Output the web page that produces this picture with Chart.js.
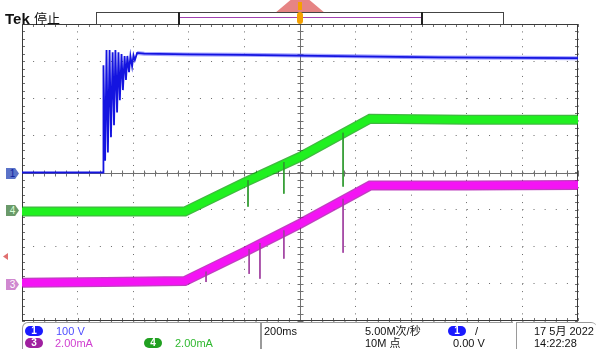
<!DOCTYPE html>
<html>
<head>
<meta charset="utf-8">
<script src="https://cdn.jsdelivr.net/npm/chart.js@4.4.1/dist/chart.umd.min.js"></script>
<style>
body { margin: 0; background: #fff; }
#tela { position: relative; width: 596px; height: 349px; overflow: hidden; font-family: "Liberation Sans", "Noto Sans CJK SC", sans-serif; }
#tela canvas { position: absolute; left: 0; top: 0; }
.txt { position: absolute; font-size: 11px; line-height: 12px; white-space: nowrap; color: #111; }
.pill { position: absolute; width: 18px; height: 10px; border-radius: 6px; color: #fff; font-size: 10px; line-height: 10px; text-align: center; font-weight: bold; }
.tag { position: absolute; width: 13px; height: 11px; font-size: 10px; line-height: 11px; text-align: center; clip-path: polygon(0 0, 70% 0, 100% 50%, 70% 100%, 0 100%); }
.caixa { position: absolute; border: 1px solid #9a9a9a; border-bottom: none; }
</style>
</head>
<body>
<div id="tela">
  <canvas id="scope" width="596" height="349"></canvas>

  <!-- cabeçalho -->
  <div class="txt" style="left:5px;top:10px;font:bold 15px 'Liberation Sans',sans-serif;">Tek</div>
  <div class="txt" style="left:34px;top:11px;font-size:13px;font-family:'Noto Sans CJK SC';line-height:14px;">停止</div>
  <div style="position:absolute;left:262px;top:-8px;width:76px;height:32px;background:rgba(220,80,80,0.7);clip-path:polygon(0 100%,50% 0,100% 100%);"></div>
  <div style="position:absolute;left:96px;top:12px;width:406px;height:11px;border:1px solid #444;background:#fff;"></div>
  <div style="position:absolute;left:178px;top:12px;width:2px;height:13px;background:#222;"></div>
  <div style="position:absolute;left:421px;top:12px;width:2px;height:13px;background:#222;"></div>
  <div style="position:absolute;left:180px;top:17px;width:241px;height:1px;background:#a040b0;"></div>
  <div style="position:absolute;left:297px;top:12px;width:6px;height:12px;border-radius:3px;background:#f5a000;"></div>
  <div style="position:absolute;left:298px;top:2px;width:4px;height:8px;background:#f5a000;"></div>

  <!-- marcadores dos canais -->
  <div class="tag" style="left:6px;top:168px;background:#5a72c8;color:#1020a0;">1</div>
  <div class="tag" style="left:6px;top:205px;background:#6a9a6a;color:#d8ffd8;">4</div>
  <div class="tag" style="left:6px;top:279px;background:#d088d0;color:#fff;">3</div>
  <div style="position:absolute;left:3px;top:253px;width:5px;height:7px;background:#e07070;clip-path:polygon(0 50%,100% 0,100% 100%);"></div>

  <!-- rodapé -->
  <div class="caixa" style="left:22px;top:322px;width:237px;height:30px;border-radius:6px 0 0 0;"></div>
  <div class="caixa" style="left:261px;top:322px;width:251px;height:30px;border-right:none;"></div>
  <div class="caixa" style="left:516px;top:322px;width:80px;height:30px;border-radius:0 6px 0 0;border-right:none;"></div>

  <div class="pill" style="left:25px;top:326px;background:#1a1aff;">1</div>
  <div class="txt" style="left:56px;top:325px;color:#4d4dff;">100 V</div>
  <div class="pill" style="left:25px;top:338px;background:#a020a0;">3</div>
  <div class="txt" style="left:55px;top:337px;color:#d040d0;">2.00mA</div>
  <div class="pill" style="left:144px;top:338px;background:#20a020;">4</div>
  <div class="txt" style="left:175px;top:337px;color:#30b830;">2.00mA</div>

  <div class="txt" style="left:264px;top:325px;">200ms</div>
  <div class="txt" style="left:365px;top:325px;">5.00M次/秒</div>
  <div class="txt" style="left:365px;top:337px;">10M 点</div>
  <div class="pill" style="left:448px;top:326px;background:#1a1aff;">1</div>
  <div class="txt" style="left:475px;top:325px;">/</div>
  <div class="txt" style="left:453px;top:337px;">0.00 V</div>

  <div class="txt" style="left:534px;top:325px;">17 5月 2022</div>
  <div class="txt" style="left:534px;top:337px;">14:22:28</div>
</div>

<script>
// eixo x em ms (200ms/div), eixo y em divisões
const tempoLimites = [-1000, 1000];
const divLimites = [-4, 4];

// CH1 (100 V/div)
const ch1Tempo = [-1000, -708, -707, -701, -696, -691, -685, -680, -674, -669, -664, -658, -653, -648,
  -642, -637, -631, -626, -621, -615, -610, -604, -599, -594, -586, -560, -400, -200, 0, 200, 500, 800, 1000];
const ch1Nivel = [0, 0, 2.89, 0.32, 3.30, 0.54, 3.30, 0.95, 3.24, 1.27, 3.30, 1.62, 3.24, 1.95,
  3.19, 2.22, 3.14, 2.49, 3.14, 2.70, 3.14, 2.86, 3.16, 3.03, 3.22, 3.20, 3.18, 3.17, 3.15, 3.13, 3.10, 3.09, 3.08];

// CH4 (2.00mA/div)
const ch4Tempo = [-1000, -700, -414, -200, 0, 252, 600, 1000];
const ch4Nivel = [-1.05, -1.05, -1.05, -0.27, 0.42, 1.45, 1.42, 1.42];
const ch4PicoTempo = [-187, -58, 155];
const ch4PicoDe = [-0.21, 0.28, 1.07];
const ch4PicoAte = [-0.92, -0.57, -0.38];

// CH3 (2.00mA/div)
const ch3Tempo = [-1000, -700, -414, -200, 0, 252, 600, 1000];
const ch3Nivel = [-2.97, -2.95, -2.92, -2.14, -1.38, -0.35, -0.35, -0.34];
const ch3PicoTempo = [-338, -183, -144, -58, 155];
const ch3PicoDe = [-2.67, -2.06, -1.90, -1.56, -0.71];
const ch3PicoAte = [-2.95, -2.73, -2.86, -2.32, -2.16];

const pontos = (ts, vs) => ts.map((t, i) => ({ x: t, y: vs[i] }));
const picos = (ts, de, ate) => ts.flatMap((t, i) => [{ x: t, y: de[i] }, { x: t, y: ate[i] }, { x: t, y: null }]);

// retícula estilo Tek: cruz central com marcas e borda
const reticula = {
  id: 'reticula',
  beforeDatasetsDraw(chart) {
    const { ctx, chartArea: a, scales: { x, y } } = chart;
    const cx = Math.round(x.getPixelForValue(0)) + 0.5;
    const cy = Math.round(y.getPixelForValue(0)) + 0.5;
    ctx.save();
    ctx.strokeStyle = '#707070';
    ctx.lineWidth = 1;
    ctx.beginPath();
    ctx.moveTo(a.left, cy); ctx.lineTo(a.right, cy);
    ctx.moveTo(cx, a.top); ctx.lineTo(cx, a.bottom);
    for (let t = tempoLimites[0]; t <= tempoLimites[1]; t += 40) {
      const px = Math.round(x.getPixelForValue(t)) + 0.5;
      ctx.moveTo(px, cy - 3); ctx.lineTo(px, cy + 3);
      ctx.moveTo(px, a.top); ctx.lineTo(px, a.top + 3);
      ctx.moveTo(px, a.bottom); ctx.lineTo(px, a.bottom - 3);
    }
    for (let v = divLimites[0]; v <= divLimites[1] + 0.001; v += 0.2) {
      const py = Math.round(y.getPixelForValue(v)) + 0.5;
      ctx.moveTo(cx - 3, py); ctx.lineTo(cx + 3, py);
      ctx.moveTo(a.left, py); ctx.lineTo(a.left + 3, py);
      ctx.moveTo(a.right, py); ctx.lineTo(a.right - 3, py);
    }
    ctx.stroke();
    ctx.strokeStyle = '#3a3a3a';
    ctx.strokeRect(a.left + 0.5, a.top + 0.5, a.width - 1, a.height - 1);
    ctx.restore();
  }
};

new Chart(document.getElementById('scope'), {
  type: 'line',
  data: {
    datasets: [
      { data: pontos(ch1Tempo, ch1Nivel), borderColor: '#1414e0', borderWidth: 1.8, order: 1 },
      { data: pontos(ch1Tempo.slice(24), ch1Nivel.slice(24)), borderColor: 'rgba(90,90,255,0.55)', borderWidth: 4, order: 2 },
      { data: picos(ch4PicoTempo, ch4PicoDe, ch4PicoAte), borderColor: '#2e9a2e', borderWidth: 1, spanGaps: false, order: 3 },
      { data: pontos(ch4Tempo, ch4Nivel), borderColor: '#20f020', borderWidth: 7.5, order: 4 },
      { data: pontos(ch4Tempo, ch4Nivel), borderColor: 'rgba(0,160,0,0.75)', borderWidth: 10, order: 5 },
      { data: picos(ch3PicoTempo, ch3PicoDe, ch3PicoAte), borderColor: '#a040a0', borderWidth: 1, spanGaps: false, order: 6 },
      { data: pontos(ch3Tempo, ch3Nivel), borderColor: '#f414f4', borderWidth: 7.5, order: 7 },
      { data: pontos(ch3Tempo, ch3Nivel), borderColor: 'rgba(170,0,170,0.75)', borderWidth: 10, order: 8 }
    ]
  },
  options: {
    responsive: false,
    animation: false,
    events: [],
    layout: { padding: { left: 22, top: 24, right: 18, bottom: 28 } },
    elements: { point: { radius: 0 }, line: { tension: 0, borderCapStyle: 'butt' } },
    plugins: { legend: { display: false }, tooltip: { enabled: false } },
    scales: {
      x: {
        type: 'linear', min: tempoLimites[0], max: tempoLimites[1],
        ticks: { display: false, stepSize: 200 },
        border: { display: false, dash: [1, 6.42] },
        grid: { drawTicks: false, color: '#6a6a6a', lineWidth: 1 }
      },
      y: {
        type: 'linear', min: divLimites[0], max: divLimites[1],
        ticks: { display: false, stepSize: 1 },
        border: { display: false, dash: [1, 10.12] },
        grid: { drawTicks: false, color: '#6a6a6a', lineWidth: 1 }
      }
    }
  },
  plugins: [reticula]
});
</script>
</body>
</html>
